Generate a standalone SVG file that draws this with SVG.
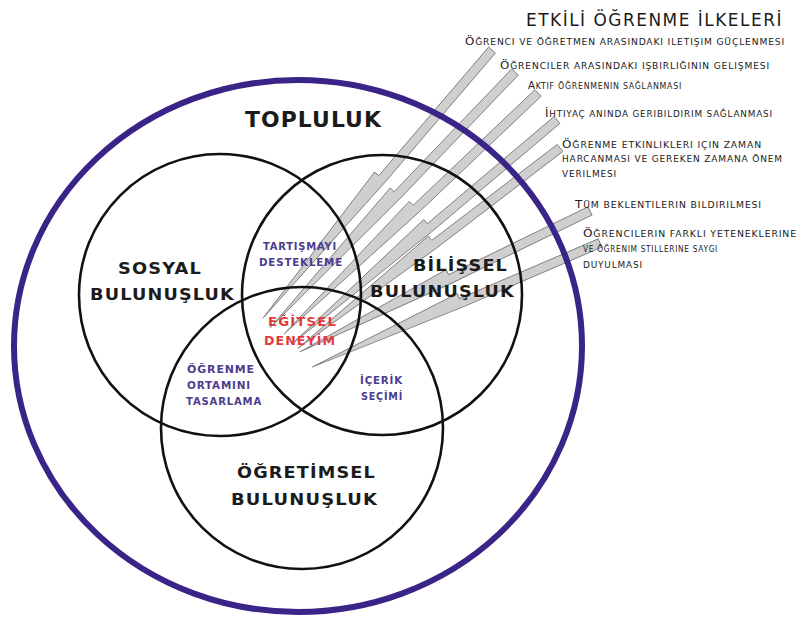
<svg xmlns="http://www.w3.org/2000/svg" width="798" height="617" viewBox="0 0 798 617">
<style>
.ring{fill:none;stroke:#3a2487;stroke-width:6}
.circ{fill:none;stroke:#111;stroke-width:2.6}
.beam{fill:#cfcfcf;stroke:#7d7d7d;stroke-width:0.9;stroke-linejoin:miter}
.big{font-family:"DejaVu Sans",sans-serif;font-weight:bold;fill:#1b1b1b;letter-spacing:1px}
.sub{font-family:"DejaVu Sans",sans-serif;font-weight:bold;fill:#4b3c8c;font-size:10px;letter-spacing:0.8px}
.red{font-family:"DejaVu Sans",sans-serif;font-weight:bold;fill:#e23b3b;font-size:12px;letter-spacing:1px}
.ttl{font-family:"DejaVu Sans",sans-serif;font-size:17px;fill:#1b1b1b;letter-spacing:1.5px}
.lst{font-family:"DejaVu Sans",sans-serif;font-size:8.5px;fill:#1b1b1b;letter-spacing:0.8px}
.cap{font-size:11px}
</style>
<rect width="798" height="617" fill="#fff"/>
<g id="connectors">
<polygon class="beam" transform="translate(492,50) rotate(130.5)" points="0,-4.5 169,-4.5 352.5,0 169,10 169,4.5 0,4.5"/>
<polygon class="beam" transform="translate(515,72) rotate(133.75)" points="0,-4.5 170,-4.5 354.3,0 170,10 170,4.5 0,4.5"/>
<polygon class="beam" transform="translate(538,93) rotate(136.5)" points="0,-4.5 168,-4.5 350.1,0 168,10 168,4.5 0,4.5"/>
<polygon class="beam" transform="translate(557,120) rotate(139.8)" points="0,-4.5 166,-4.5 347,0 166,10 166,4.5 0,4.5"/>
<polygon class="beam" transform="translate(560,148) rotate(142.6)" points="0,-4.5 158,-4.5 329.6,0 158,10 158,4.5 0,4.5"/>
<polygon class="beam" transform="translate(590,211) rotate(154.1)" points="0,-4.5 155,-4.5 322.5,0 155,10 155,4.5 0,4.5"/>
<polygon class="beam" transform="translate(600,243) rotate(156.7)" points="0,-4.5 151,-4.5 313.6,0 151,10 151,4.5 0,4.5"/>
</g>
<g id="topluluk">
<ellipse class="ring" cx="298" cy="346" rx="284" ry="266"/>
<text class="big" x="245" y="127" font-size="20.5" textLength="137" lengthAdjust="spacingAndGlyphs">TOPLULUK</text>
</g>
<g id="sosyal">
<circle class="circ" cx="220" cy="295" r="141"/>
<text class="big" x="118" y="274" font-size="15.5" textLength="84" lengthAdjust="spacingAndGlyphs">SOSYAL</text>
<text class="big" x="90" y="300" font-size="15.5" textLength="145" lengthAdjust="spacingAndGlyphs">BULUNUŞLUK</text>
</g>
<g id="bilissel">
<circle class="circ" cx="382" cy="295" r="140"/>
<text class="big" x="413" y="271" font-size="15.5" textLength="95" lengthAdjust="spacingAndGlyphs">BİLİŞSEL</text>
<text class="big" x="370" y="297" font-size="15.5" textLength="145" lengthAdjust="spacingAndGlyphs">BULUNUŞLUK</text>
</g>
<g id="ogretimsel">
<circle class="circ" cx="302" cy="428" r="141"/>
<text class="big" x="237" y="478" font-size="15.5" textLength="139" lengthAdjust="spacingAndGlyphs">ÖĞRETİMSEL</text>
<text class="big" x="231" y="505" font-size="15.5" textLength="147" lengthAdjust="spacingAndGlyphs">BULUNUŞLUK</text>
</g>
<g id="tartisma">
<text class="sub" x="263" y="250" textLength="74" lengthAdjust="spacingAndGlyphs">TARTIŞMAYI</text>
<text class="sub" x="259" y="266" textLength="84" lengthAdjust="spacingAndGlyphs">DESTEKLEME</text>
</g>
<g id="egitsel">
<text class="red" x="268" y="326" textLength="69" lengthAdjust="spacingAndGlyphs">EĞİTSEL</text>
<text class="red" x="264" y="345" textLength="72" lengthAdjust="spacingAndGlyphs">DENEYİM</text>
</g>
<g id="ortam">
<text class="sub" x="187" y="373" textLength="68" lengthAdjust="spacingAndGlyphs">ÖĞRENME</text>
<text class="sub" x="187" y="389" textLength="64" lengthAdjust="spacingAndGlyphs">ORTAMINI</text>
<text class="sub" x="186" y="405" textLength="76" lengthAdjust="spacingAndGlyphs">TASARLAMA</text>
</g>
<g id="icerik">
<text class="sub" x="360" y="384" textLength="43" lengthAdjust="spacingAndGlyphs">İÇERİK</text>
<text class="sub" x="361" y="400" textLength="42" lengthAdjust="spacingAndGlyphs">SEÇİMİ</text>
</g>
<g id="title">
<text class="ttl" x="526" y="26" textLength="257" lengthAdjust="spacingAndGlyphs">ETKİLİ ÖĞRENME İLKELERİ</text>
</g>
<g id="principle-1">
<text class="lst" x="465" y="45" textLength="320" lengthAdjust="spacingAndGlyphs"><tspan class="cap">Ö</tspan>ĞRENCI VE ÖĞRETMEN ARASINDAKI ILETIŞIM GÜÇLENMESI</text>
</g>
<g id="principle-2">
<text class="lst" x="500" y="69" textLength="270" lengthAdjust="spacingAndGlyphs"><tspan class="cap">Ö</tspan>ĞRENCILER ARASINDAKI IŞBIRLIĞININ GELIŞMESI</text>
</g>
<g id="principle-3">
<text class="lst" x="528" y="89" textLength="154" lengthAdjust="spacingAndGlyphs"><tspan class="cap">A</tspan>KTIF ÖĞRENMENIN SAĞLANMASI</text>
</g>
<g id="principle-4">
<text class="lst" x="545" y="117" textLength="228" lengthAdjust="spacingAndGlyphs"><tspan class="cap">İ</tspan>HTIYAÇ ANINDA GERIBILDIRIM SAĞLANMASI</text>
</g>
<g id="principle-5">
<text class="lst" x="562" y="148" textLength="200" lengthAdjust="spacingAndGlyphs"><tspan class="cap">Ö</tspan>ĞRENME ETKINLIKLERI IÇIN ZAMAN</text>
<text class="lst" x="562" y="162" textLength="221" lengthAdjust="spacingAndGlyphs">HARCANMASI VE GEREKEN ZAMANA ÖNEM</text>
<text class="lst" x="562" y="177" textLength="55" lengthAdjust="spacingAndGlyphs">VERILMESI</text>
</g>
<g id="principle-6">
<text class="lst" x="575" y="208" textLength="187" lengthAdjust="spacingAndGlyphs"><tspan class="cap">T</tspan>ÜM BEKLENTILERIN BILDIRILMESI</text>
</g>
<g id="principle-7">
<text class="lst" x="583" y="237" textLength="214" lengthAdjust="spacingAndGlyphs"><tspan class="cap">Ö</tspan>ĞRENCILERIN FARKLI YETENEKLERINE</text>
<text class="lst" x="583" y="252" textLength="135" lengthAdjust="spacingAndGlyphs">VE ÖĞRENIM STILLERINE SAYGI</text>
<text class="lst" x="583" y="268" textLength="60" lengthAdjust="spacingAndGlyphs">DUYULMASI</text>
</g>
</svg>
